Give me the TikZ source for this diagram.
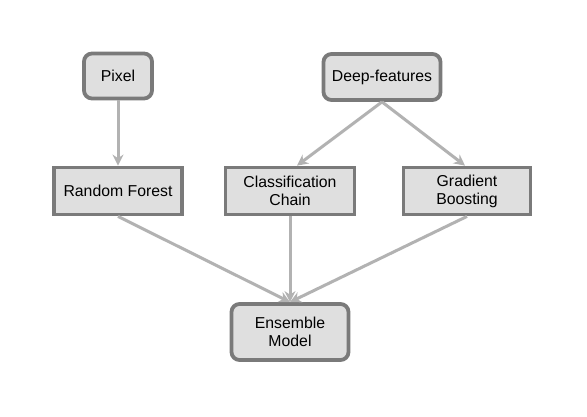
\documentclass[tikz,border=0pt]{standalone}
\usepackage{fontspec}
\setmainfont{Liberation Sans}
\usetikzlibrary{arrows.meta}
\definecolor{boxfill}{RGB}{223,223,223}
\definecolor{boxline}{RGB}{122,122,122}
\definecolor{flowgray}{RGB}{178,178,178}
\tikzset{
  srcbox/.style={draw=boxline, fill=boxfill, line width=3.8pt, rounded corners=8pt,
    align=center, inner sep=0pt, font=\fontsize{15.8}{18}\selectfont},
  algbox/.style={draw=boxline, fill=boxfill, line width=3.8pt,
    align=center, inner sep=0pt, font=\fontsize{15.8}{18}\selectfont},
  flow/.style={draw=flowgray, line width=3pt, -{Stealth[length=11pt,width=11pt]}}
}
\begin{document}
\begin{tikzpicture}[x=1pt,y=-1pt]
    \useasboundingbox[fill=white] (0,0) rectangle (587,416);
    % inputs
    \node[srcbox, minimum width=68pt, minimum height=45pt] (pixel) at (118,76) {Pixel};
    \node[srcbox, minimum width=117pt, minimum height=46pt] (deep) at (382,77) {Deep-features};
    % models
    \node[algbox, minimum width=128pt, minimum height=47pt] (rf) at (118,191) {Random Forest};
    \node[algbox, minimum width=129pt, minimum height=47pt] (cc) at (290,191) {Classification\\Chain};
    \node[algbox, minimum width=127pt, minimum height=47pt] (gb) at (467,191) {Gradient\\Boosting};
    % output
    \node[srcbox, minimum width=117pt, minimum height=56pt] (ens) at (290,332) {Ensemble\\Model};
    % connectors
    \draw[flow] (pixel.south) -- (rf.north);
    \draw[flow] (deep.south) -- ([xshift=7pt]cc.north);
    \draw[flow] (deep.south) -- ([xshift=-2pt]gb.north);
    \draw[flow] (rf.south) -- (ens.north);
    \draw[flow] (cc.south) -- (ens.north);
    \draw[flow] (gb.south) -- (ens.north);
  \end{tikzpicture}
\end{document}
